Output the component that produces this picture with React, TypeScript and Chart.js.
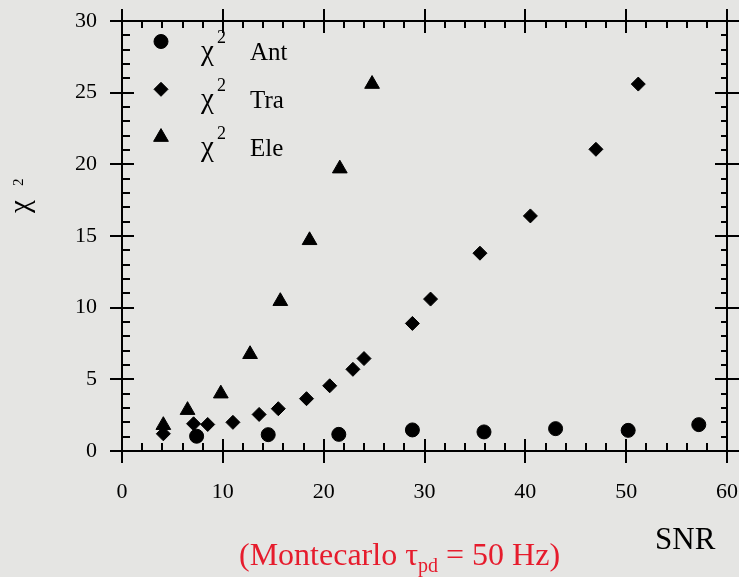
import React, { useEffect, useRef } from "react";
import { Chart, registerables } from "chart.js";
import { drawPoint } from "chart.js/helpers";

Chart.register(...registerables);

// χ² versus SNR for the three reconstructed angles
const antSNR = [7.4, 14.5, 21.5, 28.8, 35.9, 43.0, 50.2, 57.2];
const antChi2 = [1.03, 1.14, 1.16, 1.47, 1.33, 1.56, 1.44, 1.84];

const traSNR = [4.1, 7.1, 8.5, 11.0, 13.6, 15.5, 18.3, 20.6, 22.9, 24.0, 28.8, 30.6, 35.5, 40.5, 47.0, 51.2];
const traChi2 = [1.2, 1.9, 1.85, 2.0, 2.55, 2.95, 3.65, 4.55, 5.7, 6.45, 8.9, 10.6, 13.8, 16.4, 21.05, 25.6];

const eleSNR = [4.1, 6.5, 9.8, 12.7, 15.7, 18.6, 21.6, 24.8];
const eleChi2 = [1.8, 2.85, 4.0, 6.75, 10.45, 14.7, 19.7, 25.6];

const seriesNames = ["Ant", "Tra", "Ele"];
const seriesStyles = ["circle", "rectRot", "triangle"];

const xMin = 0, xMax = 60, xMajor = 10, xMinor = 2;
const yMin = 0, yMax = 30, yMajor = 5, yMinor = 1;

const xTitle = "SNR";
const captionPre = "(Montecarlo ";
const captionTau = "\u03C4";
const captionSub = "pd";
const captionPost = " = 50 Hz)";

const SERIF = '"Liberation Serif", "Times New Roman", serif';
const PAPER = "rgb(229,229,227)";
const INK = "#000";
const RED = "rgb(230,28,45)";

const toPoints = (xs: number[], ys: number[]) => xs.map((v, i) => ({ x: v, y: ys[i] }));

const paperPlugin = {
  id: "paper",
  beforeDraw(chart: any) {
    const { ctx, width, height } = chart;
    ctx.save();
    ctx.fillStyle = PAPER;
    ctx.fillRect(0, 0, width, height);
    ctx.restore();
  },
};

const framePlugin = {
  id: "frame",
  afterDraw(chart: any) {
    const { ctx, chartArea, scales } = chart;
    const { left, right, top, bottom } = chartArea;
    const x = scales.x;
    const y = scales.y;
    ctx.save();
    ctx.strokeStyle = INK;
    ctx.lineWidth = 2;
    ctx.lineCap = "butt";
    ctx.strokeRect(left, top, right - left, bottom - top);
    ctx.beginPath();
    for (let v = xMin; v <= xMax + 1e-9; v += xMinor) {
      const px = Math.round(x.getPixelForValue(v));
      const major = Math.abs(v % xMajor) < 1e-9;
      if (major) {
        ctx.moveTo(px, bottom - 12); ctx.lineTo(px, bottom + 12);
        ctx.moveTo(px, top - 12); ctx.lineTo(px, top + 12);
      } else {
        ctx.moveTo(px, bottom); ctx.lineTo(px, bottom - 8);
        ctx.moveTo(px, top); ctx.lineTo(px, top + 7);
      }
    }
    for (let v = yMin; v <= yMax + 1e-9; v += yMinor) {
      const py = Math.round(y.getPixelForValue(v));
      const major = Math.abs(v % yMajor) < 1e-9;
      if (major) {
        ctx.moveTo(left - 12, py); ctx.lineTo(left + 12, py);
        ctx.moveTo(right - 12, py); ctx.lineTo(right + 12, py);
      } else {
        ctx.moveTo(left, py); ctx.lineTo(left + 8, py);
        ctx.moveTo(right, py); ctx.lineTo(right - 6, py);
      }
    }
    ctx.stroke();

    // legend: marker, χ², series name
    chart.data.datasets.forEach((ds: any, i: number) => {
      const my = 41.5 + i * 47.8;
      ctx.fillStyle = INK;
      ctx.strokeStyle = INK;
      ctx.lineWidth = 1;
      drawPoint(ctx, { pointStyle: ds.pointStyle, radius: ds.pointRadius, borderWidth: 1, rotation: 0 } as any, 161, my);
      ctx.fillStyle = INK;
      ctx.textBaseline = "alphabetic";
      ctx.textAlign = "left";
      ctx.font = `29px ${SERIF}`;
      ctx.fillText("\u03C7", 201, my + 18.5);
      ctx.font = `18px ${SERIF}`;
      ctx.fillText("2", 217, my + 1.5);
      ctx.font = `25px ${SERIF}`;
      ctx.fillText(ds.label, 250, my + 18.5);
    });

    // y-axis title χ²
    ctx.save();
    ctx.translate(29, 213);
    ctx.rotate(-Math.PI / 2);
    ctx.font = `29px ${SERIF}`;
    ctx.fillText("\u03C7", 0, 0);
    ctx.font = `15px ${SERIF}`;
    ctx.fillText("2", 27, -6);
    ctx.restore();

    // x-axis title
    ctx.font = `31px ${SERIF}`;
    ctx.fillText(xTitle, 655, 549);

    // caption
    ctx.fillStyle = RED;
    let cx = 239;
    ctx.font = `32px ${SERIF}`;
    ctx.fillText(captionPre, cx, 565);
    cx += ctx.measureText(captionPre).width;
    ctx.fillText(captionTau, cx, 565);
    cx += ctx.measureText(captionTau).width;
    ctx.font = `20px ${SERIF}`;
    ctx.fillText(captionSub, cx, 572);
    cx += ctx.measureText(captionSub).width;
    ctx.font = `32px ${SERIF}`;
    ctx.fillText(captionPost, cx, 565);

    ctx.restore();
  },
};

const noScalePadding = (scale: any) => {
  scale.paddingLeft = 0;
  scale.paddingRight = 0;
  scale.paddingTop = 0;
  scale.paddingBottom = 0;
};

export default function App() {
  const canvasRef = useRef<HTMLCanvasElement | null>(null);

  useEffect(() => {
    document.body.style.margin = "0";
    const canvas = canvasRef.current;
    if (!canvas) return;
    const pointSets = [toPoints(antSNR, antChi2), toPoints(traSNR, traChi2), toPoints(eleSNR, eleChi2)];
    const radii = [7, 7, 8.5];
    const chart = new Chart(canvas, {
      type: "scatter",
      data: {
        datasets: pointSets.map((data, i) => ({
          label: seriesNames[i],
          data,
          pointStyle: seriesStyles[i] as any,
          pointRadius: radii[i],
          pointBackgroundColor: INK,
          pointBorderColor: INK,
          pointBorderWidth: 1,
          showLine: false,
        })),
      },
      options: {
        responsive: false,
        animation: false,
        devicePixelRatio: 1,
        layout: { padding: { top: 21, right: 12, left: 0, bottom: 0 } },
        plugins: {
          legend: { display: false },
          tooltip: { enabled: false },
        },
        scales: {
          x: {
            type: "linear",
            min: xMin,
            max: xMax,
            grid: { display: false, drawTicks: false },
            border: { display: false },
            ticks: {
              stepSize: xMajor,
              color: INK,
              padding: 28,
              maxRotation: 0,
              font: { family: SERIF, size: 22 },
            },
            afterFit: (scale: any) => { scale.height = 126; noScalePadding(scale); },
          },
          y: {
            type: "linear",
            min: yMin,
            max: yMax,
            grid: { display: false, drawTicks: false },
            border: { display: false },
            ticks: {
              stepSize: yMajor,
              color: INK,
              padding: 25,
              font: { family: SERIF, size: 22 },
            },
            afterFit: (scale: any) => { scale.width = 122; noScalePadding(scale); },
          },
        },
      },
      plugins: [paperPlugin, framePlugin],
    });
    return () => chart.destroy();
  }, []);

  return (
    <div style={{ position: "fixed", left: 0, top: 0, width: 739, height: 577, background: PAPER }}>
      <canvas ref={canvasRef} width={739} height={577} style={{ display: "block", width: 739, height: 577 }} />
    </div>
  );
}
